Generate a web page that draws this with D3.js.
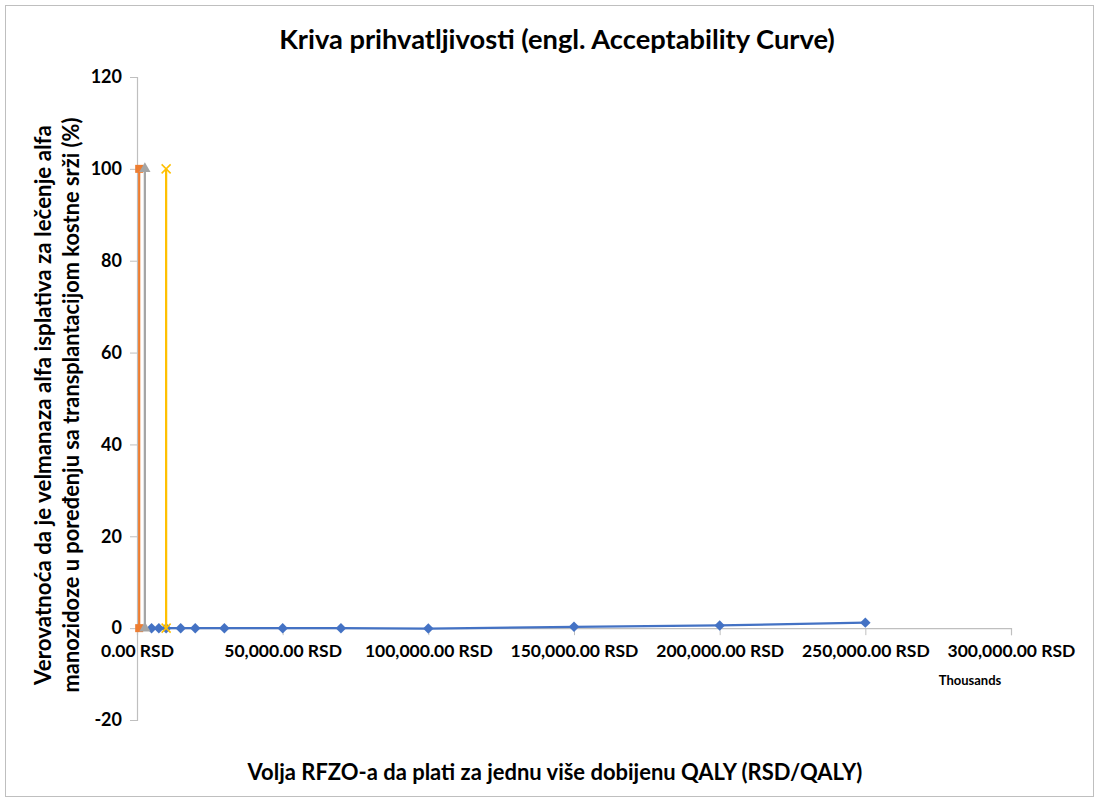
<!DOCTYPE html>
<html><head><meta charset="utf-8">
<script src="https://cdn.jsdelivr.net/npm/d3@7"></script>
<style>body{margin:0;background:#fff}svg{display:block}text{font-family:Lato,"Open Sans",sans-serif;font-weight:bold;fill:#000}</style>
</head><body>
<svg id="c" width="1096" height="800"></svg>
<script>
// x values in thousands of RSD
const titleText = "Kriva prihvatljivosti (engl. Acceptability Curve)";
const xTitle = "Volja RFZO-a da plati za jednu više dobijenu QALY (RSD/QALY)";
const yTitle1 = "Verovatnoća da je velmanaza alfa isplativa za lečenje alfa";
const yTitle2 = "manozidoze u poređenju sa transplantacijom kostne srži (%)";
const xTicks = [0, 50000, 100000, 150000, 200000, 250000, 300000];
const yTicks = [-20, 0, 20, 40, 60, 80, 100, 120];
const blueX = [5000, 7500, 10000, 15000, 20000, 30000, 50000, 70000, 100000, 150000, 200000, 250000];
const blueY = [0, 0, 0, 0, 0, 0, 0, 0, -0.1, 0.3, 0.6, 1.2];
const orangeX = [750, 750];
const orangeY = [0, 100];
const grayX = [2700, 2700];
const grayY = [0, 100];
const yellowX = [10000, 10000];
const yellowY = [0, 100];

const svg = d3.select("#c");
svg.append("rect").attr("x",5.5).attr("y",5.5).attr("width",1088).attr("height",791)
  .attr("fill","#fff").attr("stroke","#bfbfbf").attr("stroke-width",1);

const x = d3.scaleLinear().domain([0,300000]).range([137,1011]);
const y = d3.scaleLinear().domain([-20,120]).range([720,77]);

function fit(sel, w){
  const n = sel.node(); const cur = n.getComputedTextLength();
  const fs = parseFloat(sel.attr("font-size"));
  sel.attr("font-size", fs*w/cur);
}

// y axis
const ya = svg.append("g").attr("transform",`translate(${x(0)},0)`)
  .call(d3.axisLeft(y).tickValues(yTicks).tickSize(7).tickPadding(8).tickFormat(d => String(d)));
ya.select(".domain").attr("stroke","#bfbfbf").attr("stroke-width",1.2);
ya.selectAll(".tick line").attr("stroke","#bfbfbf");
ya.selectAll(".tick text").attr("font-size",18).attr("font-family","Lato").attr("font-weight","bold").attr("fill","#000");

// x axis at y=0
const xa = svg.append("g").attr("transform",`translate(0,${y(0)})`)
  .call(d3.axisBottom(x).tickValues(xTicks).tickSize(7).tickPadding(9)
    .tickFormat(d => d3.format(",.2f")(d) + " RSD"));
xa.select(".domain").attr("stroke","#bfbfbf").attr("stroke-width",1.2);
xa.selectAll(".tick line").attr("stroke","#bfbfbf");
xa.selectAll(".tick text").attr("font-size",17.5).attr("font-family","Lato").attr("font-weight","bold").attr("fill","#000");

svg.append("text").attr("x",970).attr("y",685).attr("text-anchor","middle").attr("font-size",13).text("Thousands");

// title
const t = svg.append("text").attr("x",557).attr("y",49).attr("text-anchor","middle").attr("font-size",24).text(titleText);
fit(t, 556);
const xt = svg.append("text").attr("x",555).attr("y",780).attr("text-anchor","middle").attr("font-size",19).text(xTitle);
fit(xt, 615);
const yt1 = svg.append("text").attr("transform","translate(51,405) rotate(-90)").attr("text-anchor","middle").attr("font-size",19).text(yTitle1);
fit(yt1, 560);
const yt2 = svg.append("text").attr("transform","translate(79,405) rotate(-90)").attr("text-anchor","middle").attr("font-size",19).text(yTitle2);
fit(yt2, 575);

const line = d3.line().x(d=>x(d[0])).y(d=>y(d[1]));
function series(xs, ys, color){
  const pts = xs.map((v,i)=>[v, ys[i]]);
  svg.append("path").datum(pts).attr("d",line).attr("fill","none").attr("stroke",color).attr("stroke-width",2.25);
  return pts;
}
const bp = series(blueX, blueY, "#4472C4");
svg.selectAll(".bd").data(bp).join("path").attr("class","bd")
  .attr("transform",d=>`translate(${x(d[0])},${y(d[1])})`)
  .attr("d",d3.symbol(d3.symbolDiamond2,70)()).attr("fill","#4472C4");

const op = series(orangeX, orangeY, "#ED7D31");
svg.selectAll(".od").data(op).join("rect").attr("class","od")
  .attr("x",d=>x(d[0])-4).attr("y",d=>y(d[1])-4).attr("width",8).attr("height",8).attr("fill","#ED7D31");

const gp = series(grayX, grayY, "#A5A5A5");
svg.selectAll(".gd").data(gp).join("path").attr("class","gd")
  .attr("transform",d=>`translate(${x(d[0])},${y(d[1])})`)
  .attr("d",d3.symbol(d3.symbolTriangle,55)()).attr("fill","#A5A5A5");

const yp = series(yellowX, yellowY, "#FFC000");
svg.selectAll(".yd").data(yp).join("path").attr("class","yd")
  .attr("transform",d=>`translate(${x(d[0])},${y(d[1])})`)
  .attr("d","M-4.5,-4.5L4.5,4.5M-4.5,4.5L4.5,-4.5").attr("stroke","#FFC000").attr("stroke-width",1.5).attr("fill","none");
</script>
</body></html>
